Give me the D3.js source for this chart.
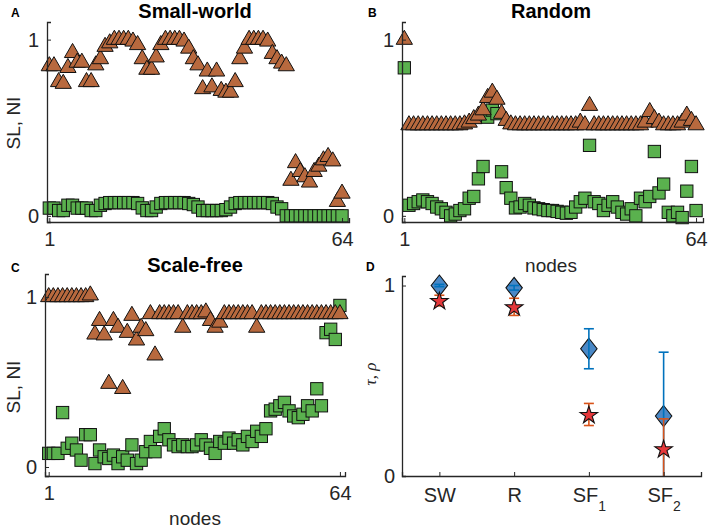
<!DOCTYPE html>
<html>
<head>
<meta charset="utf-8">
<script src="https://cdn.jsdelivr.net/npm/d3@7"></script>
<style>
  html, body { margin: 0; padding: 0; background: #fff; }
  svg { display: block; font-family: "Liberation Sans", Arial, Helvetica, sans-serif; }
</style>
</head>
<body>
<svg id="chart" width="709" height="528"></svg>
<script>
// ---------- DATA ----------
const nodes = d3.range(1, 65);
const nodeTicks = [1, 64];
const valueTicks = [0, 1];

// Panel A: Small-world
const swSL = [0.85,0.85,0.76,0.75,0.84,0.925,0.87,0.87,0.76,0.76,0.855,0.89,0.96,0.98,1.0,1.0,
  1.0,1.0,0.99,0.97,0.89,0.83,0.83,0.9,0.97,1.0,1.0,1.0,1.0,0.99,0.95,0.89,
  0.855,0.72,0.82,0.73,0.82,0.71,0.70,0.70,0.76,0.89,0.95,1.0,1.0,1.0,1.0,0.99,
  0.92,0.89,0.865,0.85,0.20,0.30,0.25,0.22,0.19,0.25,0.28,0.316,0.335,0.31,0.08,0.127];
const swNI = [0.044,0.044,0.03,0.03,0.06,0.06,0.044,0.044,0.044,0.03,0.03,0.06,0.07,0.075,0.075,0.075,
  0.075,0.075,0.075,0.07,0.045,0.03,0.03,0.05,0.07,0.075,0.075,0.075,0.075,0.075,0.07,0.064,
  0.05,0.03,0.03,0.03,0.03,0.03,0.035,0.05,0.07,0.075,0.075,0.075,0.075,0.075,0.075,0.075,
  0.07,0.05,0.04,0.0,0.0,0.0,0.0,0.0,0.0,0.0,0.0,0.0,0.0,0.0,0.0,0.0];

// Panel B: Random
const rSL = [1.0,0.515,0.515,0.515,0.515,0.515,0.515,0.515,0.515,0.515,0.515,0.515,0.515,0.52,0.53,0.55,
  0.57,0.6,0.67,0.7,0.66,0.58,0.54,0.52,0.515,0.515,0.515,0.515,0.515,0.515,0.515,0.515,
  0.515,0.515,0.515,0.515,0.515,0.515,0.53,0.515,0.625,0.515,0.515,0.515,0.515,0.515,0.515,0.515,
  0.515,0.515,0.515,0.515,0.53,0.59,0.55,0.53,0.515,0.515,0.515,0.515,0.53,0.57,0.54,0.515];
const rNI = [0.84,0.06,0.07,0.08,0.09,0.08,0.07,0.05,0.04,0.02,0.0,0.01,0.03,0.04,0.1,0.11,
  0.21,0.28,0.56,0.6,0.58,0.25,0.16,0.10,0.045,0.05,0.07,0.06,0.045,0.04,0.035,0.03,
  0.03,0.025,0.02,0.015,0.02,0.05,0.08,0.1,0.40,0.08,0.07,0.03,0.06,0.08,0.05,0.02,
  0.01,0.04,0.0,0.1,0.08,0.11,0.365,0.13,0.18,0.02,0.0,0.02,-0.01,0.14,0.28,0.03];

// Panel C: Scale-free
const sfSL = [1.0,1.0,1.0,1.0,1.0,1.0,1.0,1.0,1.0,1.01,0.78,0.86,0.775,0.49,0.86,0.82,
  0.46,0.79,0.89,0.745,0.82,0.80,0.9,0.657,0.9,0.9,0.9,0.9,0.9,0.82,0.9,0.9,
  0.9,0.9,0.91,0.86,0.82,0.85,0.9,0.9,0.9,0.9,0.9,0.9,0.9,0.82,0.9,0.9,
  0.9,0.9,0.9,0.9,0.9,0.9,0.9,0.9,0.9,0.9,0.9,0.9,0.9,0.9,0.9,0.9];
const sfNI = [0.08,0.08,0.08,0.32,0.11,0.14,0.10,0.04,0.19,0.19,0.02,0.10,0.06,0.05,0.07,0.02,
  0.06,0.04,0.13,0.02,0.04,0.09,0.15,0.09,0.18,0.225,0.16,0.13,0.12,0.13,0.12,0.12,
  0.13,0.16,0.13,0.11,0.08,0.15,0.14,0.17,0.14,0.16,0.13,0.18,0.15,0.21,0.18,0.225,
  0.33,0.34,0.36,0.38,0.33,0.30,0.29,0.31,0.36,0.33,0.46,0.36,0.79,0.81,0.75,0.95];

// Panel D
const dCats = ["SW", "R", "SF1", "SF2"];
const dCatMain = ["SW", "R", "SF", "SF"];
const dCatSub = ["", "", "1", "2"];
const tauMean = [1.0, 0.988, 0.668, 0.315];
const tauErr  = [0.006, 0.012, 0.105, 0.335];
const rhoMean = [0.921, 0.888, 0.323, 0.143];
const rhoErr  = [0.028, 0.045, 0.058, 0.157];

// ---------- STYLE ----------
const C_AXIS = "#262626";
const C_TRI = "#B8693E";
const C_SQ = "#5AB14E";
const C_DIA = "#4A88C6";
const C_STAR = "#E5383B";
const C_BLUE = "#0072BD";
const C_ORANGE = "#D95319";

const svg = d3.select("#chart");

const triR = 9.4;
const triPath = `M0,${-triR}L${triR*0.866},${triR/2}L${-triR*0.866},${triR/2}Z`;
const sq = 12.3;

function scatterPanel(cfg) {
  const g = svg.append("g");
  const x = d3.scaleLinear().domain(cfg.xdom).range(cfg.xr);
  const y = d3.scaleLinear().domain(cfg.ydom).range(cfg.yr);

  g.append("g").selectAll("rect").data(nodes).join("rect")
    .attr("x", d => x(d) - sq/2)
    .attr("y", (d, i) => y(cfg.ni[i]) - sq/2)
    .attr("width", sq).attr("height", sq)
    .attr("fill", C_SQ).attr("stroke", "#111").attr("stroke-width", 1);
  g.append("g").selectAll("path").data(nodes).join("path")
    .attr("d", triPath)
    .attr("transform", (d, i) => `translate(${x(d)},${y(cfg.sl[i])})`)
    .attr("fill", C_TRI).attr("stroke", "#111").attr("stroke-width", 1);

  const xAxis = d3.axisBottom(x).tickValues(nodeTicks).tickSize(-4).tickPadding(10).tickFormat(d3.format("d"));
  const yAxis = d3.axisLeft(y).tickValues(valueTicks).tickSize(-4).tickPadding(8).tickFormat(d3.format("d"));
  const gx = g.append("g").attr("transform", `translate(0,${cfg.yr[0]})`).call(xAxis);
  const gy = g.append("g").attr("transform", `translate(${cfg.xr[0]},0)`).call(yAxis);
  [gx, gy].forEach(a => {
    a.select(".domain").attr("stroke", C_AXIS).attr("stroke-width", 1.3);
    a.selectAll(".tick line").attr("stroke", C_AXIS).attr("stroke-width", 1);
    a.selectAll("text").attr("fill", C_AXIS).style("font-size", "20px")
      .style("font-family", "Liberation Sans, Arial, sans-serif");
  });
  gx.selectAll("text").attr("dy", "0.71em");

  svg.append("text").attr("x", cfg.titleX).attr("y", cfg.titleY)
    .attr("text-anchor", "middle").style("font-size", "20px").style("font-weight", "bold")
    .attr("fill", "#000").text(cfg.title);
  svg.append("text").attr("x", cfg.letterX).attr("y", cfg.letterY)
    .style("font-size", "12px").style("font-weight", "bold").attr("fill", "#000").text(cfg.letter);
  if (cfg.ylabel) {
    svg.append("text").attr("transform", `translate(${cfg.ylabelX},${cfg.ylabelY}) rotate(-90)`)
      .attr("text-anchor", "middle").attr("dy", "0.35em").style("font-size", "19px").attr("fill", C_AXIS)
      .text(cfg.ylabel);
  }
  if (cfg.xlabel) {
    svg.append("text").attr("x", cfg.xlabelX).attr("y", cfg.xlabelY)
      .attr("text-anchor", "middle").style("font-size", "19px").attr("fill", C_AXIS).text(cfg.xlabel);
  }
}

scatterPanel({
  xdom: [0.5, 65.5], xr: [47, 349], ydom: [-0.035, 1.1], yr: [222, 22],
  sl: swSL, ni: swNI, title: "Small-world", titleX: 195, titleY: 18,
  letter: "A", letterX: 11, letterY: 17, ylabel: "SL, NI", ylabelX: 13, ylabelY: 123
});
scatterPanel({
  xdom: [0.5, 65.5], xr: [402, 703], ydom: [-0.035, 1.1], yr: [222, 22],
  sl: rSL, ni: rNI, title: "Random", titleX: 551, titleY: 18,
  letter: "B", letterX: 368, letterY: 17, xlabel: "nodes", xlabelX: 551, xlabelY: 272
});
scatterPanel({
  xdom: [0.2, 65.1], xr: [45, 345], ydom: [-0.053, 1.135], yr: [476, 274],
  sl: sfSL, ni: sfNI, title: "Scale-free", titleX: 195, titleY: 272,
  letter: "C", letterX: 11, letterY: 272, ylabel: "SL, NI", ylabelX: 13, ylabelY: 387,
  xlabel: "nodes", xlabelX: 195, xlabelY: 525
});

// ---------- Panel D ----------
(function() {
  const g = svg.append("g");
  const x = d3.scaleLinear().domain([0.5, 4.5]).range([402, 701]);
  const y = d3.scaleLinear().domain([0, 1.05]).range([476, 276]);
  const idx = d3.range(dCats.length);
  const cap = 5;

  function errbars(mean, err, color) {
    const eg = g.append("g").attr("stroke", color).attr("stroke-width", 1.6);
    idx.forEach(i => {
      const lo = Math.max(0, mean[i] - err[i]), hi = mean[i] + err[i];
      const cx = x(i + 1);
      eg.append("line").attr("x1", cx).attr("x2", cx).attr("y1", y(lo)).attr("y2", y(hi));
      eg.append("line").attr("x1", cx - cap).attr("x2", cx + cap).attr("y1", y(hi)).attr("y2", y(hi));
      if (mean[i] - err[i] > 0)
        eg.append("line").attr("x1", cx - cap).attr("x2", cx + cap).attr("y1", y(lo)).attr("y2", y(lo));
    });
  }

  g.append("g").selectAll("path").data(idx).join("path")
    .attr("d", "M0,-10.5L8.2,0L0,10.5L-8.2,0Z")
    .attr("transform", i => `translate(${x(i + 1)},${y(tauMean[i])})`)
    .attr("fill", C_DIA).attr("stroke", "#111").attr("stroke-width", 1.1);
  errbars(tauMean, tauErr, C_BLUE);
  errbars(rhoMean, rhoErr, C_ORANGE);
  const star = d3.symbol().type(d3.symbolStar).size(95);
  g.append("g").selectAll("path").data(idx).join("path")
    .attr("d", star)
    .attr("transform", i => `translate(${x(i + 1)},${y(rhoMean[i]) + 0.8})`)
    .attr("fill", C_STAR).attr("stroke", "#111").attr("stroke-width", 1.1);

  const xAxis = d3.axisBottom(x).tickValues([1, 2, 3, 4]).tickSize(-4).tickPadding(10).tickFormat("");
  const yAxis = d3.axisLeft(y).tickValues(valueTicks).tickSize(-4).tickPadding(7).tickFormat(d3.format("d"));
  const gx = g.append("g").attr("transform", "translate(0,476)").call(xAxis);
  const gy = g.append("g").attr("transform", "translate(402,0)").call(yAxis);
  [gx, gy].forEach(a => {
    a.select(".domain").attr("stroke", C_AXIS).attr("stroke-width", 1.3);
    a.selectAll(".tick line").attr("stroke", C_AXIS).attr("stroke-width", 1);
    a.selectAll("text").attr("fill", C_AXIS).style("font-size", "20px");
  });
  gx.selectAll(".tick").each(function(d, i) {
    const t = d3.select(this).append("text").attr("y", 26).attr("fill", C_AXIS)
      .attr("text-anchor", "middle").style("font-size", "20px");
    t.append("tspan").text(dCatMain[i]);
    if (dCatSub[i]) t.append("tspan").attr("dy", 9).style("font-size", "14px").text(dCatSub[i]);
  });

  svg.append("text").attr("x", 366).attr("y", 271)
    .style("font-size", "12px").style("font-weight", "bold").attr("fill", "#000").text("D");
  svg.append("text").attr("transform", "translate(370,374) rotate(-90)")
    .attr("text-anchor", "middle").attr("dy", "0.35em")
    .style("font-size", "17px").style("font-style", "italic")
    .style("font-family", "Liberation Serif, DejaVu Serif, serif").attr("fill", C_AXIS)
    .text("τ, ρ");
})();
</script>
</body>
</html>
